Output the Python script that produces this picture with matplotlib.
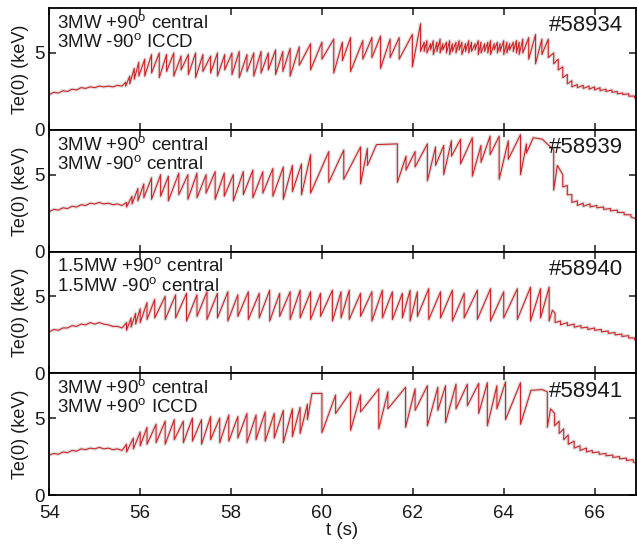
import matplotlib
matplotlib.use('Agg')
import matplotlib.pyplot as plt

plt.rcParams['font.family'] = ['Liberation Sans', 'DejaVu Sans']
plt.rcParams['mathtext.fontset'] = 'custom'
plt.rcParams['mathtext.rm'] = 'Liberation Sans'

# ---- shot #58934 ----
p1_t_early = [54.0, 54.1, 54.2, 54.3, 54.4, 54.5, 54.6, 54.7, 54.8, 54.9, 55.0, 55.1, 55.2, 55.3, 55.4, 55.5, 55.6]
p1_te_early = [2.3, 2.45, 2.4, 2.55, 2.5, 2.65, 2.6, 2.75, 2.7, 2.8, 2.75, 2.85, 2.8, 2.85, 2.8, 2.9, 2.85]
p1_crash_t = [55.68, 55.77, 55.87, 55.97,
              56.1, 56.25, 56.42, 56.58, 56.74, 56.9, 57.06, 57.22, 57.38, 57.55, 57.7, 57.86, 58.02, 58.18, 58.35, 58.5, 58.66, 58.82, 58.98, 59.14, 59.3,
              59.5, 59.75, 60.0, 60.26, 60.45, 60.63, 60.9, 61.1, 61.29, 61.5, 61.7, 61.99, 62.17,
              62.25, 62.31, 62.39, 62.45, 62.53, 62.60, 62.66, 62.74, 62.81, 62.87, 62.95, 63.02, 63.08, 63.16, 63.23, 63.29,
              63.37, 63.44, 63.50, 63.58, 63.65, 63.71, 63.79, 63.86, 63.92, 64.00, 64.07, 64.13, 64.21, 64.28, 64.34, 64.42,
              64.55, 64.7, 64.84, 64.98,
              65.1, 65.2, 65.3, 65.4, 65.5, 65.62, 65.75, 65.88, 66.0, 66.12, 66.25, 66.38, 66.5, 66.62, 66.75, 66.88]
p1_te_before = [3.1, 3.5, 4.0, 4.4,
                4.6, 4.9, 5.0, 4.9, 5.0, 4.8, 4.9, 5.0, 4.9, 4.8, 5.0, 4.9, 5.0, 5.1, 4.9, 5.0, 5.1, 5.0, 5.2, 5.1, 5.3,
                5.4, 5.6, 5.7, 5.9, 5.7, 6.0, 5.8, 6.0, 6.1, 5.9, 6.0, 6.2, 6.9,
                5.7, 5.8, 5.6, 5.8, 5.7, 5.9, 5.6, 5.7, 5.8, 5.6, 5.7, 5.8, 5.7, 5.6, 5.8, 5.7,
                5.6, 5.8, 5.7, 5.6, 5.7, 5.8, 5.6, 5.7, 5.6, 5.8, 5.7, 5.6, 5.7, 5.8, 5.7, 5.9,
                6.0, 6.2, 5.9, 5.9,
                5.0, 4.6, 4.1, 3.6, 3.2, 2.95, 2.9, 2.85, 2.8, 2.75, 2.65, 2.6, 2.5, 2.4, 2.35, 2.2]
p1_te_after = [2.85, 3.0, 3.3, 3.5,
               3.5, 3.7, 3.4, 3.8, 3.5, 3.9, 3.6, 3.4, 3.8, 3.7, 3.5, 3.9, 3.6, 3.4, 3.8, 3.5, 3.7, 3.9, 3.6, 3.8, 3.5,
               4.2, 3.9, 4.6, 3.7, 4.5, 3.8, 4.6, 4.7, 4.0, 4.7, 4.6, 4.1, 5.1,
               5.1, 5.0, 5.2, 4.9, 5.1, 5.0, 5.2, 5.0, 4.9, 5.1, 5.0, 5.2, 4.9, 5.1, 5.0, 5.1,
               5.2, 4.9, 5.0, 5.1, 5.0, 4.9, 5.2, 5.0, 5.1, 4.9, 5.0, 5.2, 5.1, 5.0, 4.9, 5.0,
               4.6, 4.3, 4.9, 4.7,
               4.3, 3.9, 3.4, 3.0, 2.8, 2.75, 2.7, 2.65, 2.6, 2.55, 2.5, 2.45, 2.35, 2.3, 2.2, 2.1]
p1_end = (66.9, 2.05)

# ---- shot #58939 ----
p2_t_early = [54.0, 54.1, 54.2, 54.3, 54.4, 54.5, 54.6, 54.7, 54.8, 54.9, 55.0, 55.1, 55.2, 55.3, 55.4, 55.5, 55.6]
p2_te_early = [2.6, 2.75, 2.7, 2.85, 2.8, 2.95, 2.9, 3.05, 3.0, 3.15, 3.1, 3.2, 3.1, 3.15, 3.05, 3.1, 3.0]
p2_crash_t = [55.7, 55.82, 55.95, 56.08,
              56.25, 56.45, 56.62, 56.85, 57.05, 57.25, 57.45, 57.65, 57.85, 58.05, 58.27, 58.48, 58.7, 58.92, 59.15, 59.35, 59.55, 59.75,
              60.15, 60.48, 60.85, 61.0, 61.2, 61.66, 61.85, 62.05, 62.32, 62.5, 62.68, 62.85, 63.05, 63.31, 63.5, 63.7, 63.9,
              64.1, 64.37, 64.5, 64.65, 64.85, 65.1,
              65.18, 65.3, 65.4, 65.5, 65.62, 65.75, 65.9, 66.05, 66.2, 66.35, 66.5, 66.65, 66.8]
p2_te_before = [3.2, 3.6, 4.1, 4.4,
                4.8, 5.0, 4.9, 5.1, 5.0, 5.1, 5.0, 5.2, 5.1, 5.0, 5.2, 5.3, 5.2, 5.4, 5.5, 5.6, 5.7, 6.3,
                6.5, 6.6, 6.8, 6.7, 6.95, 7.0, 6.2, 6.5, 7.0, 6.8, 6.9, 7.2, 7.3, 7.4, 6.9, 7.5, 7.5,
                7.2, 7.6, 7.0, 7.4, 7.3, 6.6,
                5.6, 5.0, 4.3, 3.7, 3.3, 3.15, 3.1, 3.0, 2.9, 2.8, 2.7, 2.55, 2.4]
p2_te_after = [2.9, 3.1, 3.3, 3.5,
               3.4, 3.6, 3.3, 3.7, 3.4, 3.5, 3.8, 3.4, 3.6, 3.3, 3.7, 3.5, 3.8, 3.6, 3.4, 3.9, 3.7, 3.8,
               4.5, 4.7, 4.4, 5.6, 6.95, 4.5, 5.3, 5.5, 4.6, 5.6, 5.0, 6.2, 5.7, 4.9, 5.8, 6.3, 4.7,
               6.0, 5.0, 6.4, 7.4, 7.3, 4.0,
               5.6, 4.2, 3.7, 3.2, 3.0, 2.95, 2.9, 2.85, 2.75, 2.65, 2.55, 2.4, 2.25]
p2_end = (66.9, 2.15)

# ---- shot #58940 ----
p3_t_early = [54.0, 54.1, 54.2, 54.3, 54.4, 54.5, 54.6, 54.7, 54.8, 54.9, 55.0, 55.1, 55.2, 55.3, 55.4, 55.5, 55.6]
p3_te_early = [2.7, 2.85, 2.8, 2.95, 2.95, 3.1, 3.05, 3.2, 3.15, 3.3, 3.2, 3.3, 3.2, 3.15, 3.05, 3.05, 2.95]
p3_crash_t = [55.7, 55.8, 55.9, 56.0, 56.15, 56.32,
              56.55, 56.78, 57.02, 57.25, 57.47, 57.7, 57.93, 58.15, 58.38, 58.62, 58.85, 59.07, 59.3, 59.52, 59.75,
              59.97, 60.23, 60.42, 60.6, 60.85, 61.1, 61.33, 61.55, 61.77, 61.94, 62.1, 62.35, 62.61, 62.87, 63.13, 63.42,
              63.71, 64.0, 64.3, 64.59, 64.81, 65.0,
              65.07, 65.13, 65.25, 65.4, 65.55, 65.7, 65.85, 66.0, 66.15, 66.3, 66.45, 66.6, 66.75, 66.88]
p3_te_before = [3.3, 3.6, 3.9, 4.2, 4.6, 4.8,
                5.0, 5.1, 5.2, 5.1, 5.3, 5.2, 5.3, 5.1, 5.3, 5.2, 5.4, 5.2, 5.3, 5.4, 5.3,
                5.2, 5.4, 5.3, 5.4, 5.2, 5.3, 5.4, 5.3, 5.2, 5.4, 5.3, 5.5, 5.3, 5.4, 5.2, 5.4,
                5.5, 5.3, 5.5, 5.6, 5.5, 5.6,
                4.1, 3.9, 3.4, 3.3, 3.2, 3.1, 3.0, 2.95, 2.85, 2.75, 2.65, 2.55, 2.45, 2.3]
p3_te_after = [2.8, 3.0, 3.2, 3.3, 3.5, 3.6,
               3.5, 3.6, 3.4, 3.7, 3.5, 3.6, 3.4, 3.7, 3.5, 3.6, 3.4, 3.7, 3.5, 3.6, 3.5,
               3.7, 3.4, 3.6, 3.5, 3.7, 3.4, 3.6, 3.5, 3.6, 3.4, 3.7, 3.5, 3.6, 3.4, 3.6, 3.5,
               3.4, 3.6, 3.5, 3.4, 3.6, 3.4,
               4.1, 3.3, 3.15, 3.1, 3.0, 2.95, 2.85, 2.8, 2.7, 2.6, 2.5, 2.4, 2.3, 2.2]
p3_end = (66.9, 2.15)

# ---- shot #58941 ----
p4_t_early = [54.0, 54.1, 54.2, 54.3, 54.4, 54.5, 54.6, 54.7, 54.8, 54.9, 55.0, 55.1, 55.2, 55.3, 55.4, 55.5, 55.6]
p4_te_early = [2.6, 2.7, 2.65, 2.8, 2.75, 2.9, 2.85, 3.0, 2.95, 3.05, 3.0, 3.1, 3.0, 3.05, 2.95, 3.0, 2.9]
p4_crash_t = [55.7, 55.85, 56.0, 56.15,
              56.35, 56.55, 56.75, 56.95, 57.15, 57.35, 57.55, 57.75, 57.95, 58.15, 58.35, 58.55, 58.75, 58.95, 59.15, 59.35, 59.52,
              59.68, 59.78, 60.0, 60.3, 60.63, 60.85, 61.25, 61.45, 61.84, 62.05, 62.32, 62.55, 62.72, 62.95, 63.2, 63.45,
              63.64, 63.85, 64.04, 64.37, 64.6, 64.85, 64.96,
              65.03, 65.12, 65.22, 65.32, 65.42, 65.55, 65.68, 65.82, 65.95, 66.1, 66.25, 66.4, 66.55, 66.7, 66.85]
p4_te_before = [3.3, 3.7, 4.1, 4.4,
                4.6, 4.8, 4.9, 4.8, 5.0, 4.9, 5.1, 5.0, 5.2, 5.1, 5.3, 5.2, 5.4, 5.3, 5.5, 5.6, 5.7,
                5.9, 6.6, 6.6, 6.5, 6.7, 6.5, 6.9, 6.7, 7.0, 6.9, 7.1, 7.0, 7.1, 7.2, 7.2, 7.25,
                7.3, 7.1, 7.35, 7.3, 6.8, 6.85, 6.7,
                5.6, 5.3, 4.8, 4.3, 3.9, 3.5, 3.2, 3.05, 2.9, 2.8, 2.7, 2.6, 2.5, 2.4, 2.3]
p4_te_after = [2.8, 3.0, 3.2, 3.3,
               3.4, 3.3, 3.6, 3.4, 3.5, 3.3, 3.6, 3.4, 3.5, 3.7, 3.4, 3.6, 3.5, 3.7, 3.4, 3.8, 4.0,
               4.9, 6.6, 4.05, 5.3, 4.2, 5.4, 4.3, 5.6, 4.4, 5.5, 4.5, 5.5, 4.7, 5.6, 5.8, 5.3,
               4.5, 5.6, 4.9, 4.6, 6.8, 6.85, 4.4,
               5.6, 4.5, 4.0, 3.6, 3.3, 3.05, 2.9, 2.8, 2.75, 2.65, 2.55, 2.45, 2.35, 2.25, 2.15]
p4_end = (66.9, 2.1)

shots = ['#58934', '#58939', '#58940', '#58941']
line1 = [r'3MW +90$^{\rm o}$ central', r'3MW +90$^{\rm o}$ central',
         r'1.5MW +90$^{\rm o}$ central', r'3MW +90$^{\rm o}$ central']
line2 = [r'3MW -90$^{\rm o}$ ICCD', r'3MW -90$^{\rm o}$ central',
         r'1.5MW -90$^{\rm o}$ central', r'3MW +90$^{\rm o}$ ICCD']

panels = [
    (p1_t_early, p1_te_early, p1_crash_t, p1_te_before, p1_te_after, p1_end),
    (p2_t_early, p2_te_early, p2_crash_t, p2_te_before, p2_te_after, p2_end),
    (p3_t_early, p3_te_early, p3_crash_t, p3_te_before, p3_te_after, p3_end),
    (p4_t_early, p4_te_early, p4_crash_t, p4_te_before, p4_te_after, p4_end),
]


def trace(t_early, te_early, crash_t, before, after, end):
    # crash = vertical drop from value before to value after at same time
    t = list(t_early)
    te = list(te_early)
    for c, b, a in zip(crash_t, before, after):
        t += [c, c]
        te += [b, a]
    t.append(end[0])
    te.append(end[1])
    return t, te


W, H = 637, 544
fig = plt.figure(figsize=(W / 100, H / 100), dpi=100)
left, right = 49.3, 635.5
top0, ph = 8.3, 121.7
txt = '#1a1a1a'

for i, p in enumerate(panels):
    top = top0 + i * ph
    ax = fig.add_axes([left / W, 1 - (top + ph) / H, (right - left) / W, ph / H])
    t, te = trace(*p)
    ax.plot(t, te, color='#b8b8b8', lw=2.6, alpha=0.45, solid_joinstyle='round')
    ax.plot(t, te, color='#d02428', lw=0.8)
    ax.set_xlim(54, 66.9)
    ax.set_ylim(0, 7.9)
    ax.set_yticks([0, 5])
    ax.set_xticks([54, 56, 58, 60, 62, 64, 66])
    ax.tick_params(direction='in', top=True, right=True, length=5, width=1.1,
                   labelsize=13.5, pad=3, colors=txt)
    ax.tick_params(axis='x', pad=7)
    for s in ax.spines.values():
        s.set_linewidth(1.3)
    ax.set_ylabel('Te(0) (keV)', fontsize=13, color=txt, labelpad=4)
    ax.text(0.0137, 0.83, line1[i], transform=ax.transAxes, fontsize=13.5, color=txt, va='baseline')
    ax.text(0.0137, 0.672, line2[i], transform=ax.transAxes, fontsize=13.5, color=txt, va='baseline')
    ax.text(0.979, 0.81, shots[i], transform=ax.transAxes, fontsize=16, color=txt,
            ha='right', va='baseline')
    if i < 3:
        ax.tick_params(labelbottom=False)
    else:
        ax.set_xlabel('t (s)', fontsize=13.5, color=txt, labelpad=0)

fig.savefig('out.png', dpi=100)
